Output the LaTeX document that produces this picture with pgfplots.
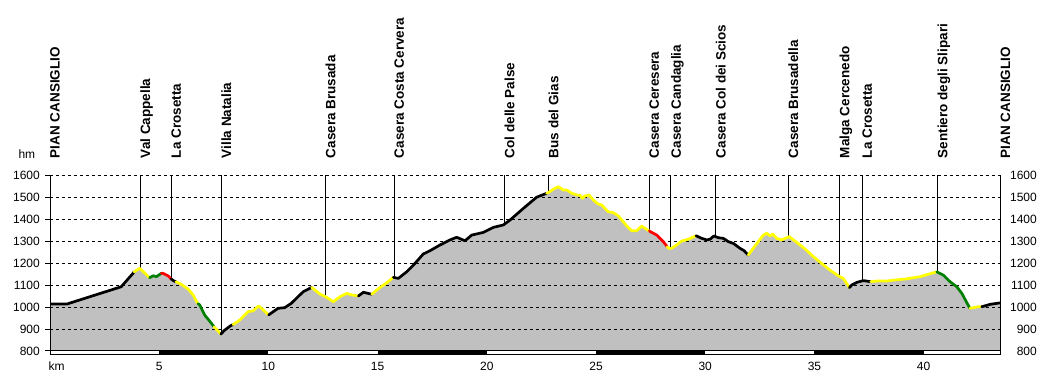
\documentclass[border=0pt]{standalone}
\usepackage{pgfplots}
\usepackage{pgfplotstable}
\pgfplotsset{compat=1.18}
\usepackage{fontspec}
\setmainfont{Liberation Sans}
\definecolor{fillgray}{RGB}{192,192,192}
\definecolor{pyellow}{RGB}{255,255,0}
\definecolor{pgreen}{RGB}{0,128,0}
\definecolor{pred}{RGB}{255,0,0}

\pgfplotstableread{
km h
0 1014
0.79 1014
3.26 1092
3.80 1153
3.85 1160
4.11 1176
4.56 1133
4.72 1142
4.87 1138
5.10 1153
5.17 1153
5.40 1142
5.55 1127
5.68 1118
5.77 1115
6.01 1103
6.32 1082
6.55 1055
6.70 1027
6.78 1015
6.85 1010
7.08 964
7.39 926
7.51 910
7.61 900
7.82 877
8.00 895
8.27 915
8.38 920
8.69 941
9.07 979
9.29 982
9.56 1005
10.01 964
10.44 994
10.75 997
11.05 1017
11.36 1047
11.60 1070
11.98 1089
12.36 1059
12.67 1044
12.97 1024
13.28 1047
13.59 1062
13.81 1055
14.12 1050
14.35 1067
14.73 1058
15.11 1089
15.42 1110
15.72 1135
15.95 1130
16.33 1160
16.71 1198
17.09 1241
17.40 1256
17.86 1282
18.32 1305
18.62 1317
19.00 1301
19.31 1327
19.84 1339
20.30 1362
20.76 1373
21.06 1395
21.67 1448
22.28 1499
22.74 1517
22.82 1520
23.04 1535
23.27 1547
23.50 1532
23.66 1532
23.89 1517
24.12 1509
24.27 1508
24.37 1494
24.50 1505
24.68 1509
24.88 1486
25.10 1468
25.26 1464
25.41 1448
25.56 1433
25.79 1429
26.02 1414
26.18 1395
26.41 1368
26.63 1347
26.86 1347
27.09 1368
27.24 1358
27.44 1345
27.78 1327
28.08 1297
28.26 1274
28.31 1267
28.47 1267
28.69 1282
28.92 1300
29.23 1308
29.58 1324
29.84 1312
30.07 1305
30.22 1308
30.40 1323
30.60 1315
30.83 1312
31.06 1297
31.29 1289
31.59 1267
31.78 1256
31.97 1236
32.20 1267
32.43 1297
32.66 1327
32.82 1335
32.97 1323
33.09 1332
33.27 1312
33.50 1305
33.73 1315
33.85 1320
34.11 1300
34.34 1282
34.57 1264
34.95 1229
35.33 1198
35.71 1168
36.09 1142
36.32 1130
36.48 1107
36.60 1088
36.71 1100
36.94 1112
37.24 1120
37.58 1115
37.85 1118
38.31 1118
38.69 1123
39.15 1127
39.53 1133
39.84 1138
40.22 1149
40.60 1160
40.90 1145
41.21 1115
41.52 1092
41.75 1062
41.97 1021
42.12 994
42.50 1001
42.66 1001
43.04 1012
43.52 1019
}\profile

\pgfplotstableread{
km h
4.13 1600
4.13 1175
nan nan
5.55 1600
5.55 1127
nan nan
7.84 1600
7.84 878
nan nan
12.61 1600
12.61 1047
nan nan
15.76 1600
15.76 1134
nan nan
20.80 1600
20.80 1375
nan nan
22.82 1600
22.82 1520
nan nan
27.44 1600
27.44 1345
nan nan
28.43 1600
28.43 1267
nan nan
30.48 1600
30.48 1319
nan nan
33.80 1600
33.80 1318
nan nan
36.14 1600
36.14 1140
nan nan
37.19 1600
37.19 1120
nan nan
40.63 1600
40.63 1160
}\marks

\newcommand{\seg}[3]{\addplot[draw=#1, line width=2.7pt, line cap=round, line join=round, restrict x to domain=#2:#3] table[x=km,y=h]{\profile};}

\tikzset{lbl/.style={rotate=90, anchor=north west, inner sep=0pt, font=\bfseries\fontsize{13.5}{13.5}\selectfont}}

\begin{document}
\begin{tikzpicture}[x=1pt,y=1pt]
\path (0,0) rectangle (1050,375);
\begin{axis}[
  at={(50pt,24pt)}, anchor=south west,
  scale only axis, width=950.5pt, height=176pt,
  xmin=0, xmax=43.52, ymin=800, ymax=1600,
  set layers, clip mode=individual,
  axis x line*=bottom, axis y line*=left,
  x axis line style={draw=none},
  y axis line style={black, line width=1pt},
  xtick={5,10,...,40}, xtick style={draw=none},
  ytick={800,900,...,1600}, ytick style={black, line width=1pt},
  tick align=outside, major tick length=5pt,
  ymajorgrids, grid style={black, line width=1pt, dash pattern=on 3pt off 3pt},
  ticklabel style={font=\fontsize{12}{12}\selectfont, inner sep=0pt},
  /pgf/number format/assume math mode=true,
  /pgf/number format/1000 sep={},
  xticklabel style={anchor=north, yshift=-5.7pt},
  yticklabel style={anchor=east, xshift=-5pt},
]
\addplot[fill=fillgray, draw=none, on layer=axis background] table[x=km,y=h]{\profile} \closedcycle;
\addplot[black, line width=1pt, unbounded coords=jump] table[x=km,y=h]{\marks};
\seg{black}{-0.01}{3.855}
\seg{pyellow}{3.845}{4.565}
\seg{pgreen}{4.555}{5.105}
\seg{pred}{5.095}{5.555}
\seg{black}{5.545}{5.775}
\seg{pyellow}{5.765}{6.785}
\seg{pgreen}{6.775}{7.515}
\seg{pyellow}{7.505}{7.825}
\seg{black}{7.815}{8.385}
\seg{pyellow}{8.375}{10.015}
\seg{black}{10.005}{11.985}
\seg{pyellow}{11.975}{14.125}
\seg{black}{14.115}{14.735}
\seg{pyellow}{14.725}{15.725}
\seg{black}{15.715}{22.745}
\seg{pyellow}{22.735}{27.445}
\seg{pred}{27.435}{28.265}
\seg{pyellow}{28.255}{29.585}
\seg{black}{29.575}{31.975}
\seg{pyellow}{31.965}{36.605}
\seg{black}{36.595}{37.585}
\seg{pyellow}{37.575}{40.605}
\seg{pgreen}{40.595}{42.125}
\seg{pyellow}{42.115}{42.665}
\seg{black}{42.655}{43.6}
\node[lbl] at (axis cs:0,1676) {PIAN CANSIGLIO};
\node[lbl] at (axis cs:4.13,1676) {Val Cappella};
\node[lbl] at (axis cs:5.55,1676) {La Crosetta};
\node[lbl] at (axis cs:7.84,1676) {Villa Natalia};
\node[lbl] at (axis cs:12.61,1676) {Casera Brusada};
\node[lbl] at (axis cs:15.76,1676) {Casera Costa Cervera};
\node[lbl] at (axis cs:20.80,1676) {Col delle Palse};
\node[lbl] at (axis cs:22.82,1676) {Bus del Gias};
\node[lbl] at (axis cs:27.44,1676) {Casera Ceresera};
\node[lbl] at (axis cs:28.43,1676) {Casera Candaglia};
\node[lbl] at (axis cs:30.48,1676) {Casera Col dei Scios};
\node[lbl] at (axis cs:33.80,1676) {Casera Brusadella};
\node[lbl] at (axis cs:36.14,1676) {Malga Cercenedo};
\node[lbl] at (axis cs:37.19,1676) {La Crosetta};
\node[lbl] at (axis cs:40.63,1676) {Sentiero degli Slipari};
\node[lbl] at (axis cs:43.52,1676) {PIAN CANSIGLIO};
\end{axis}
\begin{axis}[
  at={(50pt,24pt)}, anchor=south west,
  scale only axis, width=950.5pt, height=176pt,
  xmin=0, xmax=43.52, ymin=800, ymax=1600,
  hide x axis, axis y line*=right,
  y axis line style={black, line width=1pt},
  ytick={800,900,...,1600}, ytick style={draw=none}, major tick length=0pt,
  ticklabel style={font=\fontsize{12}{12}\selectfont, inner sep=0pt},
  /pgf/number format/assume math mode=true,
  /pgf/number format/1000 sep={},
  yticklabel style={anchor=east, xshift=36.5pt},
]
\addplot[draw=none] coordinates {(0,800) (43.52,1600)};
\end{axis}
\fill[white] (50,20.5) rectangle (1000.5,24);
\foreach \a in {5,15,25,35} {\fill[black] (50+21.84*\a,20) rectangle (50+21.84*\a+109.2,24.5);}
\draw[line width=1pt] (50,20.5) rectangle (1000.5,24);
\node[anchor=base west, inner sep=0pt, font=\fontsize{12}{12}\selectfont] at (18.3,216.7) {hm};
\node[anchor=base west, inner sep=0pt, font=\fontsize{12}{12}\selectfont] at (48.3,5) {km};
\end{tikzpicture}
\end{document}
